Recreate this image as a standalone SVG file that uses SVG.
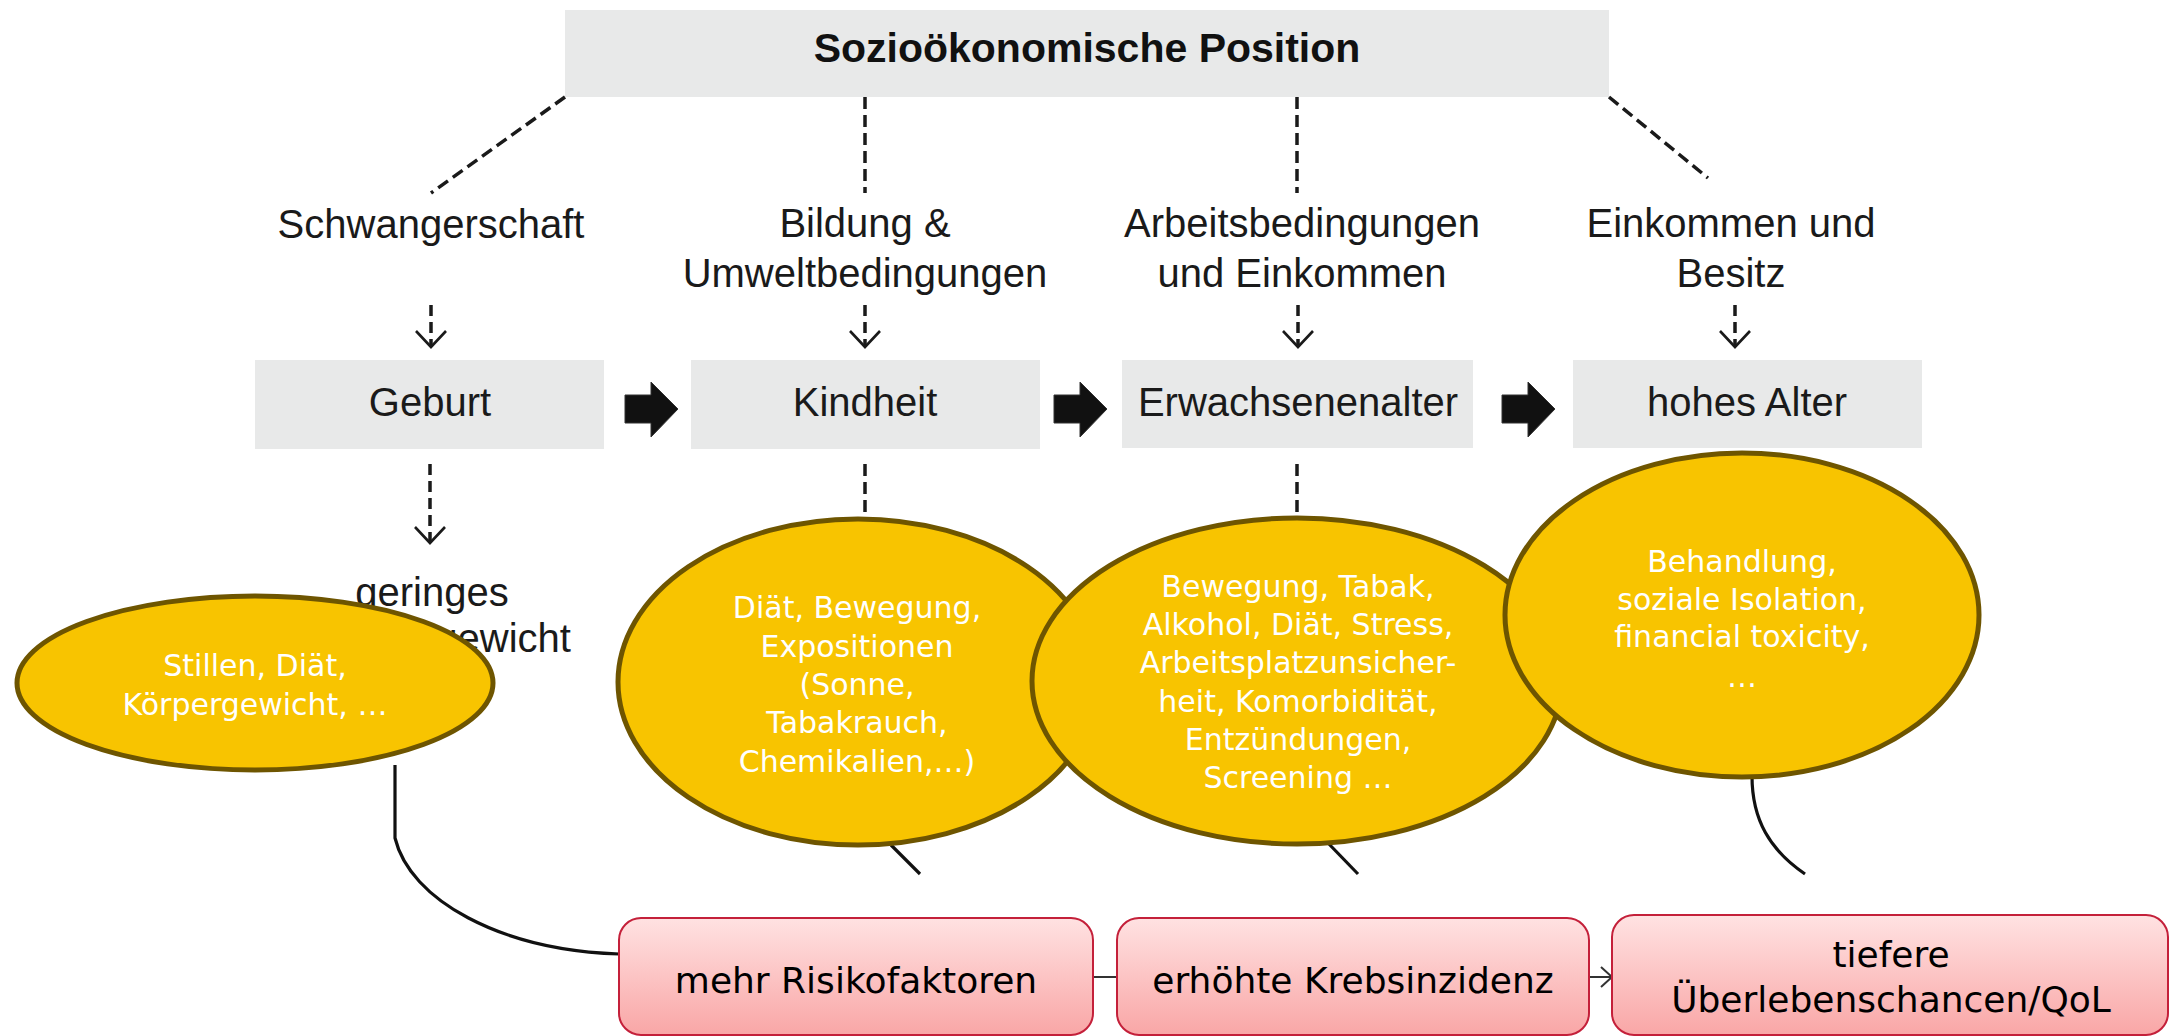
<svg xmlns="http://www.w3.org/2000/svg" width="2171" height="1036" viewBox="0 0 2171 1036">
<defs>
<linearGradient id="pinkGrad" x1="0" y1="0" x2="0" y2="1">
<stop offset="0" stop-color="#ffe2e2"/>
<stop offset="1" stop-color="#f9a6a6"/>
</linearGradient>
<marker id="vhead" viewBox="0 0 20 34" refX="18" refY="17" markerWidth="20" markerHeight="34" markerUnits="userSpaceOnUse" orient="auto">
<path d="M2,2 L18,17 L2,32" fill="none" stroke="#1a1a1a" stroke-width="2.6"/>
</marker>
<marker id="smallhead" viewBox="0 0 14 24" refX="12" refY="12" markerWidth="14" markerHeight="24" markerUnits="userSpaceOnUse" orient="auto">
<path d="M1,2 L12,12 L1,22" fill="none" stroke="#333" stroke-width="2"/>
</marker>
</defs>
<style>
.gbox{fill:#e8e9e9;}
.lbl{font-family:"Liberation Sans",Arial,sans-serif;font-size:40px;fill:#1a1a1a;text-anchor:middle;}
.title{font-family:"Liberation Sans",Arial,sans-serif;font-size:41px;font-weight:bold;fill:#111;text-anchor:middle;}
.dash{fill:none;stroke:#1a1a1a;stroke-width:3.5;stroke-dasharray:12 6;}
.dasha{fill:none;stroke:#1a1a1a;stroke-width:3.5;stroke-dasharray:11 6;}
.blk{fill:#111;stroke:#333;stroke-width:1;}
.ell{fill:#f8c400;stroke:#6e5500;stroke-width:5;}
.etxt{font-family:"DejaVu Sans",sans-serif;font-size:30px;fill:#ffffff;text-anchor:middle;}
.pbox{fill:url(#pinkGrad);stroke:#c4203a;stroke-width:2;}
.ptxt{font-family:"DejaVu Sans",sans-serif;font-size:36px;fill:#000;text-anchor:middle;}
.conn{fill:none;stroke:#111;stroke-width:3.2;}
</style>
<rect width="2171" height="1036" fill="#ffffff"/>

<g id="connectors">
<line class="dash" x1="565" y1="97" x2="431" y2="193"/>
<line class="dash" x1="865" y1="97" x2="865" y2="193"/>
<line class="dash" x1="1297" y1="97" x2="1297" y2="193"/>
<line class="dash" x1="1609" y1="97" x2="1708" y2="178"/>
<line class="dasha" x1="431" y1="305" x2="431" y2="347" marker-end="url(#vhead)"/>
<line class="dasha" x1="865" y1="305" x2="865" y2="347" marker-end="url(#vhead)"/>
<line class="dasha" x1="1298" y1="305" x2="1298" y2="347" marker-end="url(#vhead)"/>
<line class="dasha" x1="1735" y1="305" x2="1735" y2="347" marker-end="url(#vhead)"/>
<line class="dasha" x1="430" y1="464" x2="430" y2="543" marker-end="url(#vhead)"/>
<line class="dash" x1="865" y1="464" x2="865" y2="520"/>
<line class="dash" x1="1297" y1="464" x2="1297" y2="518"/>
<polygon class="blk" points="625,395 651,395 651,382 678,409 651,437 651,423 625,423"/>
<polygon class="blk" points="1054,395 1080,395 1080,382 1107,409 1080,437 1080,423 1054,423"/>
<polygon class="blk" points="1502,395 1528,395 1528,382 1555,409 1528,437 1528,423 1502,423"/>
<path class="conn" d="M395,765 L395,838 C410,900 500,950 619,954"/>
<line class="conn" x1="891" y1="845" x2="920" y2="874"/>
<line class="conn" x1="1328" y1="843" x2="1358" y2="874"/>
<path class="conn" d="M1752,776 C1752,820 1770,850 1805,874"/>
<line x1="1094" y1="977" x2="1117" y2="977" stroke="#333" stroke-width="2"/>
<line x1="1589" y1="977" x2="1612" y2="977" stroke="#333" stroke-width="2" marker-end="url(#smallhead)"/>
</g>

<g id="sozio">
<rect class="gbox" x="565" y="10" width="1044" height="87"/>
<text class="title" x="1087" y="62">Sozioökonomische Position</text>
</g>

<g id="schwangerschaft"><text class="lbl" x="431" y="238">Schwangerschaft</text></g>
<g id="bildung"><text class="lbl" x="865" y="237">Bildung &amp;</text><text class="lbl" x="865" y="287">Umweltbedingungen</text></g>
<g id="arbeit"><text class="lbl" x="1302" y="237">Arbeitsbedingungen</text><text class="lbl" x="1302" y="287">und Einkommen</text></g>
<g id="einkommen"><text class="lbl" x="1731" y="237">Einkommen und</text><text class="lbl" x="1731" y="287">Besitz</text></g>

<g id="geburt"><rect class="gbox" x="255" y="360" width="349" height="89"/><text class="lbl" x="430" y="416">Geburt</text></g>
<g id="kindheit"><rect class="gbox" x="691" y="360" width="349" height="89"/><text class="lbl" x="865" y="416">Kindheit</text></g>
<g id="erwachsen"><rect class="gbox" x="1122" y="360" width="351" height="88"/><text class="lbl" x="1298" y="416">Erwachsenenalter</text></g>
<g id="alter"><rect class="gbox" x="1573" y="360" width="349" height="88"/><text class="lbl" x="1747" y="416">hohes Alter</text></g>

<g id="geringes"><text class="lbl" x="432" y="606">geringes</text><text class="lbl" x="432" y="652">Geburtsgewicht</text></g>

<g id="ell1">
<ellipse class="ell" cx="255" cy="683" rx="238" ry="87"/>
<text class="etxt" x="255" y="676">Stillen, Diät,</text>
<text class="etxt" x="255" y="715">Körpergewicht, …</text>
</g>
<g id="ell2">
<ellipse class="ell" cx="858" cy="682" rx="240" ry="163"/>
<text class="etxt" x="857" y="618">Diät, Bewegung,</text>
<text class="etxt" x="857" y="657">Expositionen</text>
<text class="etxt" x="857" y="695">(Sonne,</text>
<text class="etxt" x="857" y="733">Tabakrauch,</text>
<text class="etxt" x="857" y="772">Chemikalien,…)</text>
</g>
<g id="ell3">
<ellipse class="ell" cx="1297" cy="681" rx="265" ry="163"/>
<text class="etxt" x="1298" y="597">Bewegung, Tabak,</text>
<text class="etxt" x="1298" y="635">Alkohol, Diät, Stress,</text>
<text class="etxt" x="1298" y="673">Arbeitsplatzunsicher-</text>
<text class="etxt" x="1298" y="712">heit, Komorbidität,</text>
<text class="etxt" x="1298" y="750">Entzündungen,</text>
<text class="etxt" x="1298" y="788">Screening …</text>
</g>
<g id="ell4">
<ellipse class="ell" cx="1742" cy="615" rx="237" ry="162"/>
<text class="etxt" x="1742" y="572">Behandlung,</text>
<text class="etxt" x="1742" y="610">soziale Isolation,</text>
<text class="etxt" x="1742" y="647">financial toxicity,</text>
<text class="etxt" x="1742" y="687">…</text>
</g>

<g id="risiko"><rect class="pbox" x="619" y="918" width="474" height="117" rx="22"/><text class="ptxt" x="856" y="993">mehr Risikofaktoren</text></g>
<g id="inzidenz"><rect class="pbox" x="1117" y="918" width="472" height="117" rx="22"/><text class="ptxt" x="1353" y="993">erhöhte Krebsinzidenz</text></g>
<g id="ueberleben"><rect class="pbox" x="1612" y="915" width="556" height="120" rx="22"/><text class="ptxt" x="1891" y="967">tiefere</text><text class="ptxt" x="1891" y="1012">Überlebenschancen/QoL</text></g>
</svg>
